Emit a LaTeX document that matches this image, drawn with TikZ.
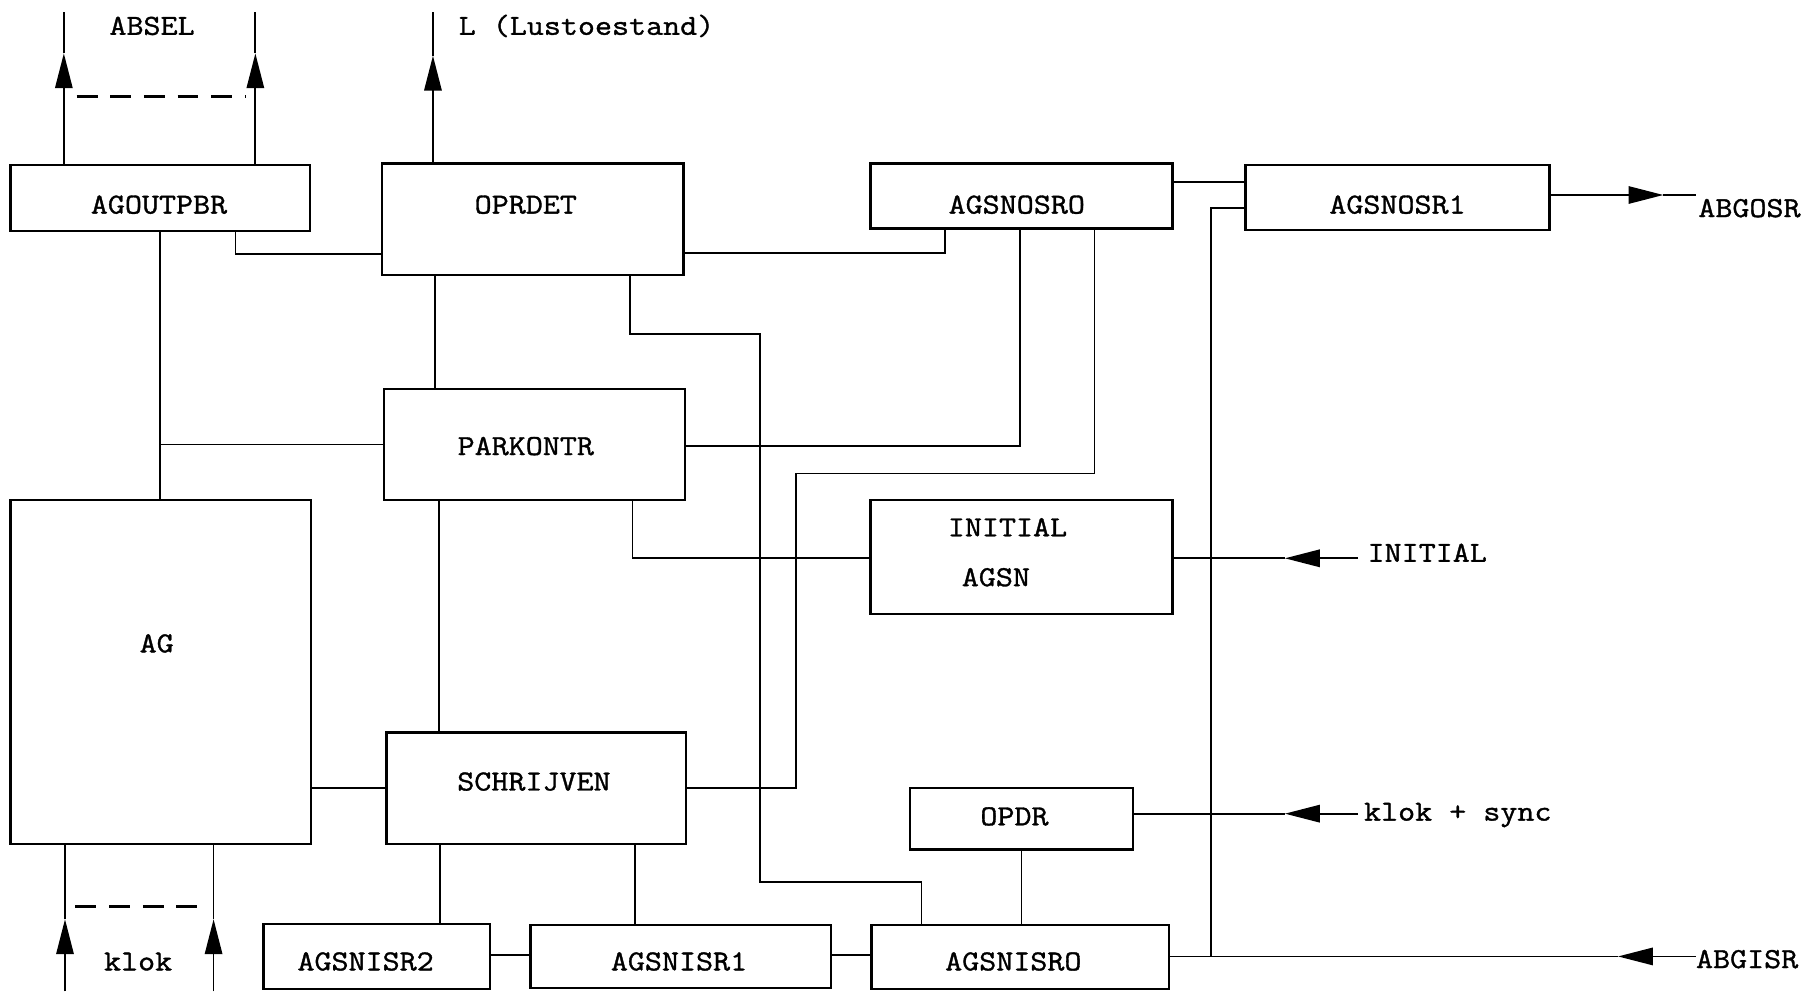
\documentclass[tikz,border=0pt]{standalone}
\usepackage{fontspec}
\setmonofont{Latin Modern Mono}[FakeStretch=1.14,FakeBold=1.2]
\usetikzlibrary{arrows.meta,fit}
\begin{document}
\begin{tikzpicture}[x=1pt,y=-1pt,
  box/.style={draw,line width=2.1pt,inner sep=0pt,fit={#1}},
  wire/.style={line width=1.5pt},
  tip/.style={wire,-{Triangle[length=30pt,width=15pt]}},
  dsh/.style={line width=2.2pt,dash pattern=on 18pt off 11pt},
  txt/.style={font=\fontsize{25}{30}\selectfont\ttfamily,inner sep=0pt,anchor=base},
  ltxt/.style={txt,anchor=base west}]
\useasboundingbox (0,0) rectangle (1568,854);
\fill[white] (0,0) rectangle (1568,854);
% boxes
\node[box={(9,142)(267,199)}] (agout) {};
\node[box={(329,141)(589,237)}] (oprdet) {};
\node[box={(750,141)(1010,197)}] (agsnosr0) {};
\node[box={(1073,142)(1335,198)}] (agsnosr1) {};
\node[box={(331,335)(590,431)}] (parkontr) {};
\node[box={(9,431)(268,727)}] (ag) {};
\node[box={(750,431)(1010,529)}] (initial) {};
\node[box={(333,631)(591,727)}] (schrijven) {};
\node[box={(784,679)(976,732)}] (opdr) {};
\node[box={(227,796)(422,852)}] (agsnisr2) {};
\node[box={(457,797)(716,851)}] (agsnisr1) {};
\node[box={(751,797)(1007,852)}] (agsnisr0) {};
% box texts
\node[txt] (tagout) at (137,184) {AGOUTPBR};
\node[txt] (toprdet) at (453,184) {OPRDET};
\node[txt] (tagsnosr0) at (876,184) {AGSNOSRO};
\node[txt] (tagsnosr1) at (1204,184) {AGSNOSR1};
\node[txt] (tparkontr) at (453,392) {PARKONTR};
\node[txt] (tag) at (135,562) {AG};
\node[txt] (tinit1) at (868,462) {INITIAL};
\node[txt] (tinit2) at (858,505) {AGSN};
\node[txt] (tschrijven) at (460,681) {SCHRIJVEN};
\node[txt] (topdr) at (874,711) {OPDR};
\node[txt] (tagsnisr2) at (315,836) {AGSNISR2};
\node[txt] (tagsnisr1) at (585,836) {AGSNISR1};
\node[txt] (tagsnisr0) at (873,836) {AGSNISRO};
% outside labels
\node[txt] (labsel) at (131,30) {ABSEL};
\node[ltxt] (lL) at (395,30) {L (Lustoestand)};
\node[ltxt] (labgosr) at (1463,187) {ABGOSR};
\node[ltxt] (linitial) at (1178,484) {INITIAL};
\node[ltxt] (lklok2) at (1175,707) {klok + sync};
\node[ltxt] (labgisr) at (1461,834) {ABGISR};
\node[txt] (lklok) at (119,836) {klok};
% coordinates for free ends
\coordinate (absA) at (55,10);   \coordinate (absAt) at (55,46);
\coordinate (absB) at (220,10);  \coordinate (absBt) at (220,46);
\coordinate (lend) at (373,10);  \coordinate (lt) at (373,48);
\coordinate (dA1) at (66,83);    \coordinate (dA2) at (212,83);
\coordinate (kA) at (56,854);    \coordinate (kAt) at (56,792);
\coordinate (kB) at (184,854);   \coordinate (kBt) at (184,792);
\coordinate (dK1) at (65,781);   \coordinate (dK2) at (179,781);
\coordinate (ogEnd) at (1461,168); \coordinate (ogt) at (1433,168);
\coordinate (inEnd) at (1170,481); \coordinate (int) at (1107,481);
\coordinate (ksEnd) at (1170,701); \coordinate (kst) at (1107,701);
\coordinate (giEnd) at (1461,824); \coordinate (git) at (1394,824);
\coordinate (jn) at (1043,824);
% ABSEL outputs
\draw[tip] (55,0 |- agout.north) -- (absAt);
\draw[wire] (absAt) -- (absA);
\draw[tip] (220,0 |- agout.north) -- (absBt);
\draw[wire] (absBt) -- (absB);
\draw[dsh] (dA1) -- (dA2);
% L output
\draw[tip] (373,0 |- oprdet.north) -- (lt);
\draw[wire] (lt) -- (lend);
% klok inputs
\draw[tip] (kA) -- (kAt);
\draw[wire] (kAt) -- (56,0 |- ag.south);
\draw[tip] (kB) -- (kBt);
\draw[wire] (kBt) -- (184,0 |- ag.south);
\draw[dsh] (dK1) -- (dK2);
% internal connections
\draw[wire] (203,0 |- agout.south) |- (oprdet.west |- 0,219);
\draw[wire] (138,0 |- agout.south) -- (138,0 |- ag.north);
\draw[wire] (138,0 |- parkontr.west) -- (parkontr.west);
\draw[wire] (oprdet.east |- 0,218) -| (814,0 |- agsnosr0.south);
\draw[wire] (375,0 |- oprdet.south) -- (375,0 |- parkontr.north);
\draw[wire] (543,0 |- oprdet.south) |- (655,288) |- (794,760) -- (794,0 |- agsnisr0.north);
\draw[wire] (parkontr.east |- 0,384) -| (879,0 |- agsnosr0.south);
\draw[wire] (943,0 |- agsnosr0.south) |- (686,408) |- (schrijven.east |- 0,679);
\draw[wire] (545,0 |- parkontr.south) |- (initial.west |- 0,481);
\draw[wire] (378,0 |- parkontr.south) -- (378,0 |- schrijven.north);
\draw[wire] (ag.east |- 0,679) -- (schrijven.west |- 0,679);
\draw[wire] (agsnosr0.east |- 0,157) -- (agsnosr1.west |- 0,157);
\draw[wire] (agsnosr1.west |- 0,179) -| (jn);
\draw[wire] (880,0 |- opdr.south) -- (880,0 |- agsnisr0.north);
\draw[wire] (379,0 |- schrijven.south) -- (379,0 |- agsnisr2.north);
\draw[wire] (547,0 |- schrijven.south) -- (547,0 |- agsnisr1.north);
\draw[wire] (agsnisr2.east |- 0,823) -- (agsnisr1.west |- 0,823);
\draw[wire] (agsnisr1.east |- 0,823) -- (agsnisr0.west |- 0,823);
% external connections
\draw[tip] (agsnosr1.east |- 0,168) -- (ogt);
\draw[wire] (ogt) -- (ogEnd);
\draw[tip] (inEnd) -- (int);
\draw[wire] (int) -- (initial.east |- 0,481);
\draw[tip] (ksEnd) -- (kst);
\draw[wire] (kst) -- (opdr.east |- 0,701);
\draw[tip] (giEnd) -- (git);
\draw[wire] (git) -- (agsnisr0.east |- 0,824);
\end{tikzpicture}
\end{document}
